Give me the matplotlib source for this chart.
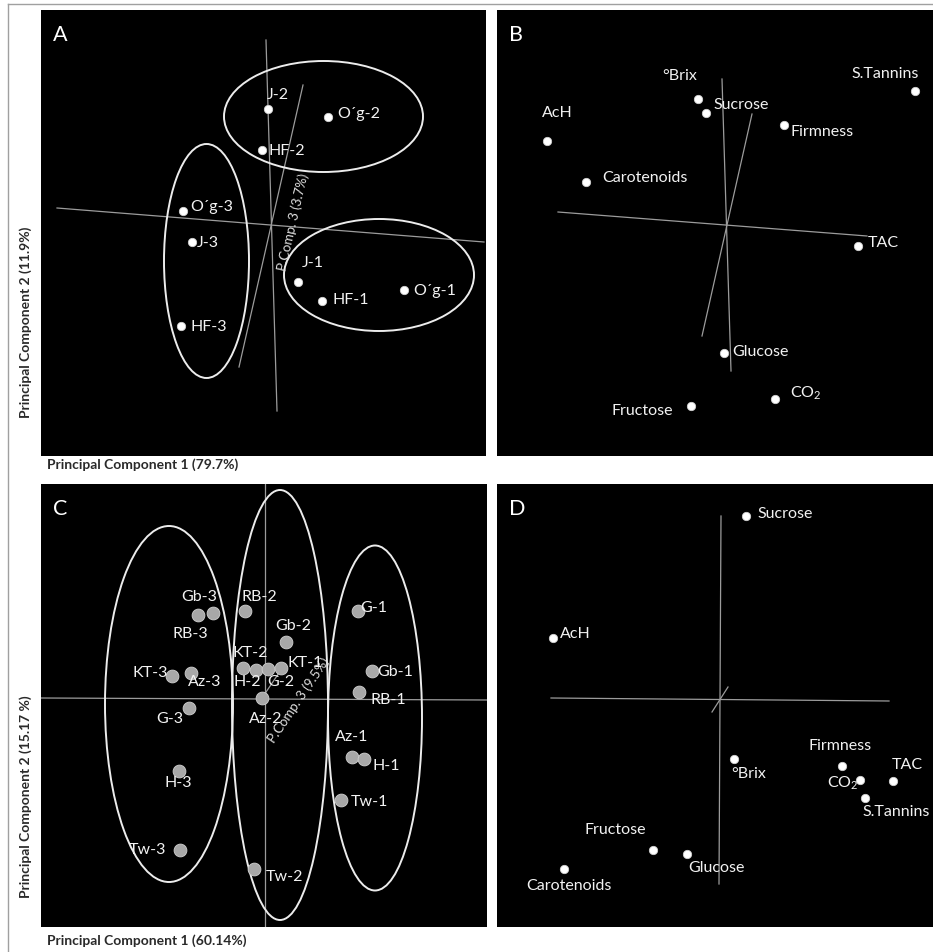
import matplotlib.pyplot as plt
from matplotlib.patches import Ellipse
from matplotlib.lines import Line2D

plt.rcParams['font.family'] = ['Lato', 'DejaVu Sans']
plt.rcParams['mathtext.fontset'] = 'custom'
plt.rcParams['mathtext.rm'] = 'Lato'
plt.rcParams['mathtext.it'] = 'Lato'
plt.rcParams['mathtext.bf'] = 'Lato:bold'

# -----------------------------
# DATA (scores / loadings, panel units, y grows downward)
# -----------------------------
# panel A - scores
a_names = ['J-2', 'O´g-2', 'HF-2', 'O´g-3', 'J-3', 'HF-3', 'J-1', 'HF-1', 'O´g-1']
a_x = [227, 287, 221, 142, 151, 140, 257, 281, 363]
a_y = [99, 107, 140, 201, 232, 316, 272, 291, 280]

# panel B - loadings
b_names = ['°Brix', 'Sucrose', 'S.Tannins', 'AcH', 'Firmness', 'Carotenoids',
           'TAC', 'Glucose', 'CO$_2$', 'Fructose']
b_x = [201, 209, 418, 50, 287, 89, 361, 227, 278, 194]
b_y = [89, 103, 81, 131, 115, 172, 236, 343, 389, 396]

# panel C - scores
c_names = ['Gb-3', 'RB-3', 'RB-2', 'Gb-2', 'KT-2', 'H-2', 'G-2', 'KT-1', 'Az-2',
           'KT-3', 'Az-3', 'G-3', 'H-3', 'Tw-3', 'Tw-2', 'G-1', 'Gb-1', 'RB-1',
           'Az-1', 'H-1', 'Tw-1']
c_x = [172, 157, 204, 245, 202, 215, 227, 240, 221, 131, 150, 148, 138, 139,
       213, 317, 331, 318, 311, 323, 300]
c_y = [129, 131, 127, 158, 184, 186, 185, 184, 214, 192, 189, 224, 287, 366,
       385, 127, 187, 208, 273, 275, 316]

# panel D - loadings
d_names = ['Sucrose', 'AcH', 'Firmness', 'TAC', 'CO$_2$', 'S.Tannins', '°Brix',
           'Fructose', 'Glucose', 'Carotenoids']
d_x = [249, 56, 345, 396, 363, 368, 237, 156, 190, 67]
d_y = [32, 154, 282, 297, 296, 314, 275, 366, 370, 385]

# -----------------------------
# LAYOUT / STYLE
# -----------------------------
a_lab = [(-1, 15, 'left'), (9, 4, 'left'), (6, 0, 'left'), (7, 5, 'left'),
         (5, 0, 'left'), (10, 0, 'left'), (4, 20, 'left'), (11, 2, 'left'),
         (9, 0, 'left')]
b_lab = [(-18, 24, 'center'), (7, 9, 'left'), (-30, 18, 'center'),
         (10, 29, 'center'), (6, -6, 'left'), (16, 5, 'left'), (10, 4, 'left'),
         (8, 2, 'left'), (15, 7, 'left'), (-18, -4, 'right')]
c_lab = [(-14, 17), (-8, -18), (14, 15), (7, 17), (7, 16), (-9, -11), (13, -12),
         (24, 6), (4, -20), (-22, 4), (14, -8), (-19, -10), (-1, -11), (-33, 1),
         (31, -7), (16, 4), (23, 0), (29, -7), (0, 21), (22, -6), (28, -1)]
c_lab = [(dx, dy, 'center') for dx, dy in c_lab]
d_lab = [(11, 3, 'left'), (7, 5, 'left'), (-2, 21, 'center'), (14, 17, 'center'),
         (-17, -2, 'center'), (31, -13, 'center'), (15, -14, 'center'),
         (-38, 21, 'center'), (29, -13, 'center'), (5, -16, 'center')]

# axis lines of the 3D projection (panel units)
a_axes = [((16, 443), (198, 232)), ((225, 236), (30, 401)), ((262, 198), (75, 357))]
b_axes = [((61, 370), (202, 226)), ((225, 234), (69, 361)), ((255, 205), (104, 326))]
c_axes = [((0, 446), (214, 216)), ((224, 224), (0, 443)), ((221, 244), (214, 180))]
d_axes = [((54, 392), (214, 217)), ((224, 222), (32, 400)), ((215, 231), (228, 203))]

# ellipses: (cx, cy, w, h)
a_ell = [(282.5, 106.5, 199, 111), (165.5, 251, 85, 234), (338, 265, 190, 112)]
c_ell = [(128, 220, 128, 356), (239, 221, 96, 430), (334, 234, 94, 345)]

W, H = 933, 953
fig = plt.figure(figsize=(W / 100, H / 100), dpi=100)
fig.patch.set_facecolor('white')


def make_ax(left, top, right, bottom):
    ax = fig.add_axes([left / W, 1 - bottom / H, (right - left) / W, (bottom - top) / H])
    ax.set_facecolor('black')
    ax.set_xlim(0, right - left)
    ax.set_ylim(bottom - top, 0)
    ax.set_xticks([])
    ax.set_yticks([])
    for s in ax.spines.values():
        s.set_visible(False)
    return ax


def draw_panel(ax, letter, xs, ys, names, labs, lines, dot_color, dot_size):
    for lx, ly in lines:
        ax.plot(lx, ly, color='#9c9c9c', lw=0.9, zorder=1)
    ax.scatter(xs, ys, s=dot_size, color=dot_color, edgecolor='#d0d0d0',
               linewidth=0.6, zorder=3)
    for x, y, name, (dx, dy, ha) in zip(xs, ys, names, labs):
        ax.annotate(name, (x, y), xytext=(dx, dy), textcoords='offset pixels',
                    ha=ha, va='center', color='#f2f2f2', fontsize=11.5, zorder=4)
    ax.text(12, 24, letter, color='white', fontsize=15.5, ha='left', va='center')


axA = make_ax(41, 11, 486, 457)
axB = make_ax(497, 11, 933, 457)
axC = make_ax(41, 485, 487, 928)
axD = make_ax(497, 485, 933, 928)

draw_panel(axA, 'A', a_x, a_y, a_names, a_lab, a_axes, 'white', 36)
draw_panel(axB, 'B', b_x, b_y, b_names, b_lab, b_axes, 'white', 36)
draw_panel(axC, 'C', c_x, c_y, c_names, c_lab, c_axes, '#a8a8a8', 85)
draw_panel(axD, 'D', d_x, d_y, d_names, d_lab, d_axes, 'white', 36)

for ax, ells in [(axA, a_ell), (axC, c_ell)]:
    for cx, cy, w, h in ells:
        ax.add_patch(Ellipse((cx, cy), w, h, fill=False, ec='#ececec', lw=1.4, zorder=2))

# third component labels
axA.text(252, 211, 'P.Comp. 3 (3.7%)', rotation=77, color='#e0e0e0', fontsize=9.5,
         ha='center', va='center', rotation_mode='anchor')
axC.text(258, 215, 'P.Comp. 3 (9.5%)', rotation=56, color='#e0e0e0', fontsize=9.5,
         ha='center', va='center', rotation_mode='anchor')

# -----------------------------
# AXIS TITLES
# -----------------------------
lab_kw = dict(fontsize=10, fontweight='bold', color='#2a2a2a')
fig.text(47 / W, 1 - 465 / H, 'Principal Component 1 (79.7%)', ha='left', va='center', **lab_kw)
fig.text(26 / W, 1 - 322 / H, 'Principal Component 2 (11.9%)', ha='center', va='center',
         rotation=90, **lab_kw)
fig.text(47 / W, 1 - 941 / H, 'Principal Component 1 (60.14%)', ha='left', va='center', **lab_kw)
fig.text(26 / W, 1 - 797 / H, 'Principal Component 2 (15.17 %)', ha='center', va='center',
         rotation=90, **lab_kw)

# outer frame
fig.add_artist(Line2D([8 / W, 1], [1 - 5 / H, 1 - 5 / H], color='#a0a0a0', lw=1))
fig.add_artist(Line2D([8 / W, 8 / W], [0, 1 - 5 / H], color='#a0a0a0', lw=1))

fig.savefig('out.png', dpi=100, facecolor='white')
